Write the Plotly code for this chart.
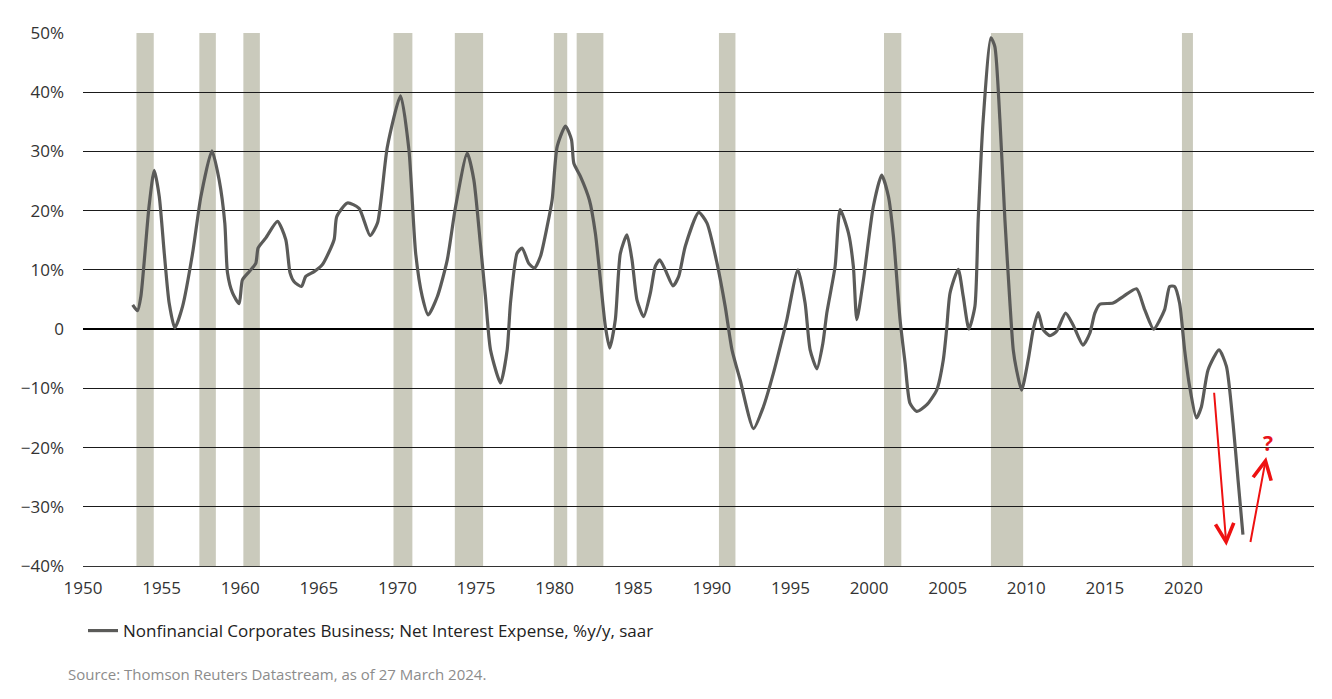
import plotly.graph_objects as go

# ---- data ----
YEARS = [1953.16, 1953.47, 1953.68, 1954.2, 1954.53, 1954.85, 1955.17, 1955.48, 1955.84, 1956.33,
         1956.97, 1957.5, 1958.2, 1958.66, 1959.02, 1959.19, 1959.51, 1959.93, 1960.14, 1960.57,
         1960.99, 1961.14, 1961.63, 1962.37, 1962.9, 1963.17, 1963.43, 1963.9, 1964.17, 1964.7,
         1965.23, 1965.97, 1966.14, 1966.82, 1967.56, 1968.26, 1968.73, 1969.36, 1970.2, 1970.73,
         1971.16, 1971.58, 1971.96, 1972.54, 1973.17, 1973.7, 1974.44, 1974.86, 1975.29, 1975.6,
         1975.92, 1976.56, 1976.98, 1977.19, 1977.61, 1977.93, 1978.35, 1978.72, 1979.1, 1979.52,
         1979.84, 1980.16, 1980.69, 1981.07, 1981.22, 1981.64, 1982.21, 1982.59, 1982.91, 1983.23,
         1983.5, 1983.86, 1984.18, 1984.6, 1984.92, 1985.24, 1985.66, 1986.09, 1986.4, 1986.68,
         1987.04, 1987.53, 1987.89, 1988.31, 1989.16, 1989.69, 1990.33, 1990.85, 1991.28, 1991.8,
         1992.65, 1993.28, 1993.92, 1994.56, 1994.77, 1995.47, 1995.93, 1996.25, 1996.68, 1997.06,
         1997.31, 1997.84, 1998.16, 1998.69, 1999.0, 1999.22, 1999.64, 2000.27, 2000.8, 2001.23,
         2001.55, 2001.97, 2002.29, 2002.6, 2003.03, 2003.66, 2004.3, 2004.72, 2004.93, 2005.15,
         2005.67, 2005.99, 2006.35, 2006.73, 2006.94, 2007.26, 2007.75, 2008.0, 2008.32, 2008.64,
         2008.96, 2009.17, 2009.38, 2009.7, 2010.12, 2010.44, 2010.76, 2011.07, 2011.5, 2011.92,
         2012.5, 2012.98, 2013.61, 2014.04, 2014.36, 2014.68, 2015.52, 2016.16, 2017.01, 2017.53,
         2018.1, 2018.8, 2019.12, 2019.43, 2019.75, 2020.07, 2020.39, 2020.82, 2021.14, 2021.56,
         2022.26, 2022.73, 2023.15, 2023.47, 2023.78]
VALUES = [4.1, 3.1, 5.5, 20.7, 26.8, 22.4, 12.8, 4.4, 0.2, 3.8,
          12.8, 22.4, 30.1, 25.2, 17.9, 9.5, 6.1, 4.3, 8.3, 9.7,
          11.1, 13.7, 15.4, 18.2, 15.1, 9.5, 8.0, 7.2, 8.9, 9.7,
          10.9, 15.1, 19.0, 21.3, 20.4, 15.8, 17.9, 30.8, 39.4, 30.3,
          12.8, 5.5, 2.4, 5.5, 11.7, 20.7, 29.7, 25.2, 14.0, 5.5,
          -3.5, -9.1, -3.5, 4.4, 12.8, 13.7, 11.1, 10.3, 12.3, 17.3,
          21.8, 30.8, 34.3, 32.0, 28.0, 25.8, 21.8, 16.2, 8.3, 0.4,
          -3.2, 1.6, 12.8, 15.9, 11.7, 4.9, 2.1, 6.1, 10.6, 11.7,
          10.0, 7.3, 8.9, 14.0, 19.7, 17.9, 11.1, 3.8, -3.5, -8.6,
          -16.8, -13.1, -7.4, -0.7, 1.6, 10.0, 4.4, -3.5, -6.7, -2.4,
          2.7, 10.6, 20.2, 16.2, 10.6, 1.6, 8.3, 20.7, 26.0, 22.4,
          15.6, 1.6, -5.7, -12.5, -13.9, -12.8, -10.3, -5.2, -0.1, 6.1,
          10.1, 5.5, 0.0, 3.8, 18.5, 35.4, 49.2, 47.7, 35.4, 18.5,
          4.4, -3.5, -6.9, -10.3, -5.2, -0.1, 2.8, -0.1, -1.1, -0.4,
          2.7, 0.7, -2.7, -0.7, 2.7, 4.2, 4.4, 5.5, 6.8, 3.3,
          0.0, 3.3, 7.2, 7.2, 4.4, -3.5, -9.7, -15.0, -13.1, -6.9,
          -3.5, -6.3, -15.9, -25.5, -34.7]

REC_START = [1953.40, 1957.40, 1960.20, 1969.75, 1973.65, 1979.95, 1981.40, 1990.45, 2000.95, 2007.75, 2019.90]
REC_END = [1954.50, 1958.45, 1961.25, 1970.95, 1975.45, 1980.80, 1983.10, 1991.50, 2002.05, 2009.80, 2020.60]

X_TICKS = [1950, 1955, 1960, 1965, 1970, 1975, 1980, 1985, 1990, 1995, 2000, 2005, 2010, 2015, 2020]
Y_TICKS = [50, 40, 30, 20, 10, 0, -10, -20, -30, -40]
Y_LABELS = ["50%", "40%", "30%", "20%", "10%", "0", "\u221210%", "\u221220%", "\u221230%", "\u221240%"]

# red "what next?" arrows: (tail_x, tail_y) -> (tip_x, tip_y)
ARROW_TAIL_X = [2021.94, 2024.24]
ARROW_TAIL_Y = [-10.5, -36.2]
ARROW_TIP_X = [2022.73, 2025.26]
ARROW_TIP_Y = [-36.6, -21.6]
QMARK_X, QMARK_Y = 2025.37, -19.2

SERIES_NAME = "Nonfinancial Corporates Business; Net Interest Expense, %y/y, saar"
SOURCE = "Source: Thomson Reuters Datastream, as of 27 March 2024."

FONT = "Open Sans"

# the page body adds an 8px offset; figure is sized to the remaining window area
W, H = 1324, 691

fig = go.Figure()
fig.add_trace(go.Scatter(
    x=YEARS, y=VALUES, mode="lines", name=SERIES_NAME,
    line=dict(color="#5b5b59", width=3.2, shape="spline", smoothing=0.6),
    showlegend=True, hoverinfo="skip"))

shapes = []
for s, e in zip(REC_START, REC_END):
    shapes.append(dict(type="rect", xref="x", yref="paper", x0=s, x1=e, y0=0, y1=1,
                       fillcolor="#cacabc", line=dict(width=0), layer="below"))

annotations = []
for tx, ty, hx, hy in zip(ARROW_TAIL_X, ARROW_TAIL_Y, ARROW_TIP_X, ARROW_TIP_Y):
    annotations.append(dict(x=hx, y=hy, ax=tx, ay=ty, xref="x", yref="y", axref="x", ayref="y",
                            text="", showarrow=True, arrowhead=5, arrowsize=1.8, arrowwidth=2,
                            arrowcolor="#ee1111"))
annotations.append(dict(x=QMARK_X, y=QMARK_Y, xref="x", yref="y", text="<b>?</b>", showarrow=False,
                        font=dict(family=FONT, size=21, color="#e8141b")))
annotations.append(dict(x=-0.0135, y=-0.2026, xref="paper", yref="paper", xanchor="left", yanchor="middle",
                        text=SOURCE, showarrow=False, font=dict(family=FONT, size=15, color="#8c8c8c")))

fig.update_layout(
    width=W, height=H,
    margin=dict(l=75, r=18, t=25, b=133, autoexpand=False),
    paper_bgcolor="white", plot_bgcolor="white",
    font=dict(family=FONT, size=17, color="#333333"),
    shapes=shapes, annotations=annotations,
    legend=dict(orientation="h", x=0.0, y=-0.122, xanchor="left", yanchor="middle",
                font=dict(family=FONT, size=17, color="#222222"), bgcolor="rgba(0,0,0,0)"),
    xaxis=dict(range=[1950, 2028.3], tickvals=X_TICKS, ticktext=[str(v) for v in X_TICKS],
               showgrid=False, zeroline=False, showline=True, linecolor="#333333", linewidth=1,
               ticks="", ticklabelstandoff=7, automargin=False,
               tickfont=dict(family=FONT, size=17, color="#333333")),
    yaxis=dict(range=[-40, 50], tickvals=Y_TICKS, ticktext=Y_LABELS,
               showgrid=True, gridcolor="#1a1a1a", gridwidth=1,
               zeroline=True, zerolinecolor="#000000", zerolinewidth=2,
               showline=False, ticks="", ticklabelstandoff=18, automargin=False,
               tickfont=dict(family=FONT, size=17, color="#333333")),
)

fig.write_html("out.html")
